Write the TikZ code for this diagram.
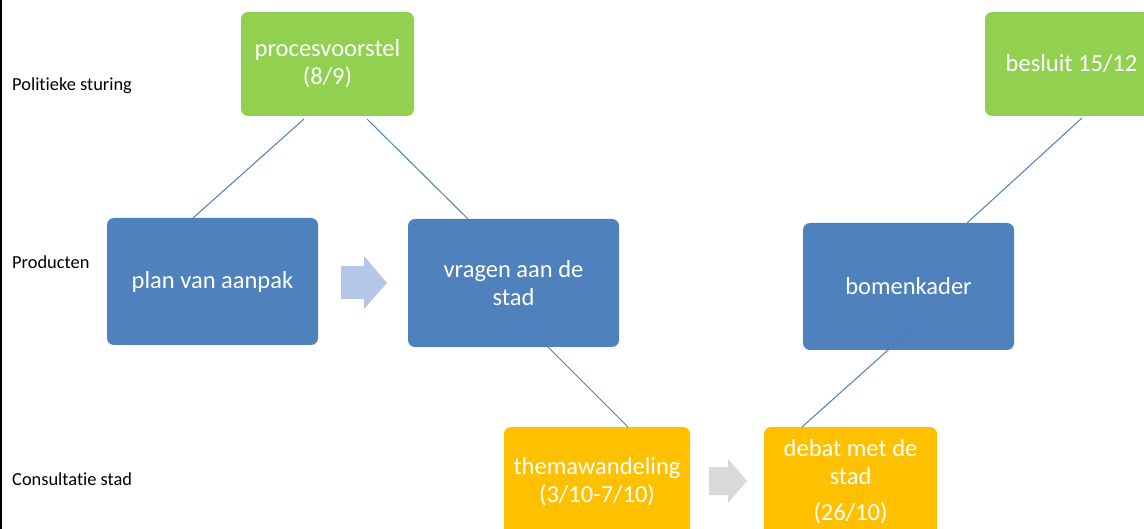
\documentclass[tikz,border=0pt]{standalone}
\usepackage{fontspec}
\setmainfont{Carlito}[Ligatures=NoCommon]
\usetikzlibrary{calc}
\definecolor{pgreen}{HTML}{92D050}
\definecolor{pblue}{HTML}{4F81BD}
\definecolor{porange}{HTML}{FFC000}
\definecolor{plink}{HTML}{4A7EBB}
\definecolor{parrowa}{HTML}{B4C7E7}
\definecolor{parrowb}{HTML}{D9D9D9}
\tikzset{
  box/.style={rectangle, rounded corners=7pt, anchor=north west, inner sep=0pt, outer sep=0pt,
    text=white, align=center, font=\fontsize{24.5}{28}\selectfont},
  greenbox/.style={box, fill=pgreen, minimum width=173pt, minimum height=104pt},
  bluebox/.style={box, fill=pblue, minimum width=211pt, minimum height=127pt},
  orangebox/.style={box, fill=porange, minimum height=110pt},
  rowlabel/.style={anchor=west, inner sep=0pt, font=\fontsize{18.4}{22}\selectfont},
  link/.style={draw=plink, line width=1pt},
}
\begin{document}
\begin{tikzpicture}[x=1pt,y=-1pt]
\useasboundingbox (0,0) rectangle (1144,529);
\fill[white] (0,0) rectangle (1144,529);
\clip (0,0) rectangle (1144,529);
\draw[black, line width=2.5pt] (1,0) -- (1,529);

\node[rowlabel] (l1) at (12,86) {Politieke sturing};
\node[rowlabel] (l2) at (12,262) {Producten};
\node[rowlabel] (l3) at (12,479) {Consultatie stad};

\node[greenbox] (pv) at (241,12) {procesvoorstel\\(8/9)};
\node[greenbox] (bes) at (985,12) {besluit 15/12};
\node[bluebox] (plan) at (107,218) {plan van aanpak};
\node[bluebox, minimum height=128pt] (vr) at (408,219) {vragen aan de\\stad};
\node[bluebox] (bom) at (803,223) {bomenkader};
\node[orangebox, minimum width=186pt] (th) at (504,427) {themawandeling\\(3/10-7/10)};
\node[orangebox, minimum width=173pt] (deb) at (764,427) {debat met de\\stad\\[8pt](26/10)};

\fill[parrowa] (341,266) -- (364,266) -- (364,256) -- (387,283) -- (364,309) -- (364,299) -- (341,299) -- cycle;
\fill[parrowb] (709,467) -- (728,467) -- (728,459) -- (747,481) -- (728,503) -- (728,495) -- (709,495) -- cycle;

\draw[link] ($(pv.south west)+(63,3)$) -- ($(plan.north west)+(86,0)$);
\draw[link] ($(pv.south west)+(126,3)$) -- ($(vr.north west)+(60,0)$);
\draw[link] ($(bes.south west)+(97,2)$) -- ($(bom.north west)+(164,0)$);
\draw[link] ($(vr.south west)+(110,-30)$) -- ($(th.north west)+(124,0)$);
\draw[link] ($(bom.south west)+(122,-33)$) -- ($(deb.north west)+(38,0)$);
\end{tikzpicture}
\end{document}
